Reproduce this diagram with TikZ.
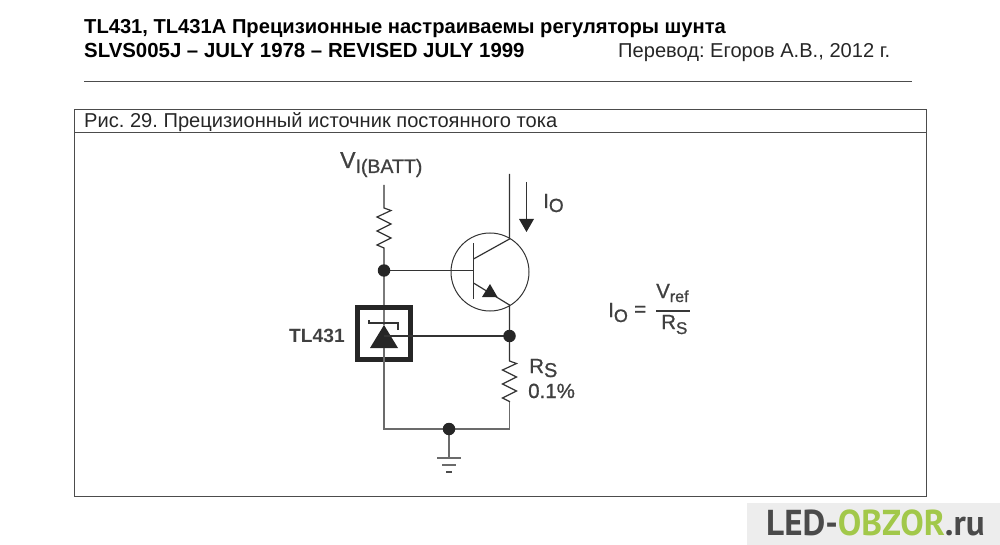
\documentclass[tikz,border=0pt]{standalone}
\usepackage{fontspec}
\setmainfont{Liberation Sans}
\newfontfamily\labfont[FakeBold=0.9]{Liberation Sans}
\newfontfamily\wmfont[FakeStretch=0.975]{PT Sans}
\definecolor{wire}{HTML}{333333}
\definecolor{wmbg}{HTML}{EDEDED}
\definecolor{wmdark}{HTML}{4A4A4A}
\definecolor{wmgreen}{HTML}{A2C84A}
\tikzset{
  x=1pt,y=-1pt,
  wireline/.style={draw=wire,line width=1.2pt},
  graywire/.style={draw=black!58,line width=1.2pt},
  junction/.style={circle,fill=black!85,draw=none,inner sep=0pt,minimum size=12.5pt},
  solidmark/.style={fill=black!85,draw=none},
  txt/.style={inner sep=0pt,anchor=base west,text=black!85,font=\fontsize{20.1}{22}\selectfont\frenchspacing},
  hdr/.style={inner sep=0pt,anchor=base west,text=black,font=\bfseries\fontsize{20.3}{22}\selectfont},
  lab/.style={inner sep=0pt,anchor=base west,text=black!75,font=\labfont\fontsize{20.5}{22}\selectfont},
}
\begin{document}
\begin{tikzpicture}
\useasboundingbox (0,0) rectangle (1000,545);
% header
\node[hdr,font=\bfseries\fontsize{20.15}{22}\selectfont] (h1) at (84,33.5) {TL431, TL431A Прецизионные настраиваемы регуляторы шунта};
\node[hdr,font=\bfseries\fontsize{20.4}{22}\selectfont] (h2) at (84,58) {SLVS005J – JULY 1978 – REVISED JULY 1999};
\node[txt] (h3) at (618,58) {Перевод: Егоров А.В., 2012 г.};
\draw[black!70,line width=1pt] (84,82) -- (912,82);
% frame
\draw[black!70,line width=1pt] (74.5,109.5) rectangle (926.5,496);
\draw[black!70,line width=1pt] (74.5,133) -- (926.5,133);
\node[txt] (cap) at (84,128) {Рис. 29. Прецизионный источник постоянного тока};
% coords
\coordinate (vtop) at (384,185);
\coordinate (r1a) at (384,208);
\coordinate (d1) at (384,270.5);
\coordinate (bar) at (473.5,270.5);
\coordinate (ctop) at (509.5,174);
\coordinate (cpin) at (509.5,239);
\coordinate (epin) at (509.5,305);
\coordinate (d2) at (509.5,336);
\coordinate (r2a) at (509.5,361);
\coordinate (r2b) at (509.5,402);
\coordinate (cr) at (509.5,429);
\coordinate (cl) at (384,429);
\coordinate (d3) at (449,429);
\coordinate (g1) at (449,458);
\coordinate (t1) at (384,336);
% wires
\draw[wireline] (vtop) -- (r1a) -- ++(7,2.5) -- ++(-14,6.5) -- ++(14,7) -- ++(-14,7) -- ++(14,7) -- ++(-14,7) -- ++(7,3) -- (d1) -- (384,325);
\draw[wireline] (d1) -- (bar);
% transistor
\node[circle,draw=wire,line width=1pt,minimum size=78pt,inner sep=0pt] (q) at (490,272) {};
\draw[wire,line width=1.2pt] (473.5,243) -- (473.5,299);
\draw[wireline] (473.5,259) -- (cpin) -- (ctop);
\draw[wireline] (473.5,283) -- (epin) -- (d2);
\fill[solidmark] (490,284) -- (497.5,297) -- (482,297) -- cycle;
% Io arrow
\draw[wireline] (526.5,182) -- (526.5,220);
\fill[solidmark] (519,219) -- (534,219) -- (526.5,232) -- cycle;
\node[lab] (io) at (543,208) {I\raisebox{-4pt}{\fontsize{19}{20}\selectfont O}};
% TL431
\draw[black!85,line width=5pt,line join=miter] (357.5,307.5) rectangle (410.5,359.5);
\fill[solidmark] (384,325) -- (398,348) -- (370,348) -- cycle;
\draw[wireline] (369,320) -- (369,323) -- (398,323) -- (398,330);
\draw[wireline] (t1) -- (d2);
\draw[graywire] (384,348) -- (cl) -- (cr) -- (r2b);
\draw[wireline] (d2) -- (r2a) -- ++(7,2.5) -- ++(-14,6.5) -- ++(14,7) -- ++(-14,7) -- ++(14,7) -- ++(-14,7) -- ++(7,3.5) -- (r2b);
\draw[graywire] (d3) -- (g1);
\draw[graywire] (437,458) -- (461,458);
\draw[graywire] (442,465) -- (456,465);
\draw[black!70,line width=1.4pt] (446,472) -- (452,472);
\node[junction] (j1) at (d1) {};
\node[junction] (j2) at (d2) {};
\node[junction] (j3) at (d3) {};
% labels
\node[lab,font=\labfont\fontsize{23}{24}\selectfont] (v) at (340,168) {V\raisebox{-5pt}{\fontsize{19.5}{20}\selectfont I(BATT)}};
\node[lab,font=\bfseries\fontsize{19.2}{22}\selectfont] (tl) at (289,342) {TL431};
\node[lab] (rs) at (529,373) {R\raisebox{-4pt}{\fontsize{20}{20}\selectfont S}};
\node[lab] (pc) at (528,398) {0.1\%};
% formula
\node[lab] (f1) at (608,317) {I\raisebox{-5pt}{\fontsize{18}{20}\selectfont O}};
\node[lab] (f2) at (634,316) {=};
\node[lab] (f3) at (656,298) {V\raisebox{-4pt}{\fontsize{16}{18}\selectfont ref}};
\draw[black!78,line width=1.2pt] (656,311) -- (690,311);
\node[lab] (f4) at (661,329) {R\raisebox{-5pt}{\fontsize{17}{18}\selectfont S}};
% watermark
\fill[wmbg] (747,503) rectangle (1000,545);
\node[inner sep=0pt,anchor=base west,font=\wmfont\bfseries\fontsize{36}{36}\selectfont] (wm) at (766,535) {\textcolor{wmdark}{LED-}\textcolor{wmgreen}{OBZOR}\textcolor{wmdark}{.ru}};
\end{tikzpicture}
\end{document}
